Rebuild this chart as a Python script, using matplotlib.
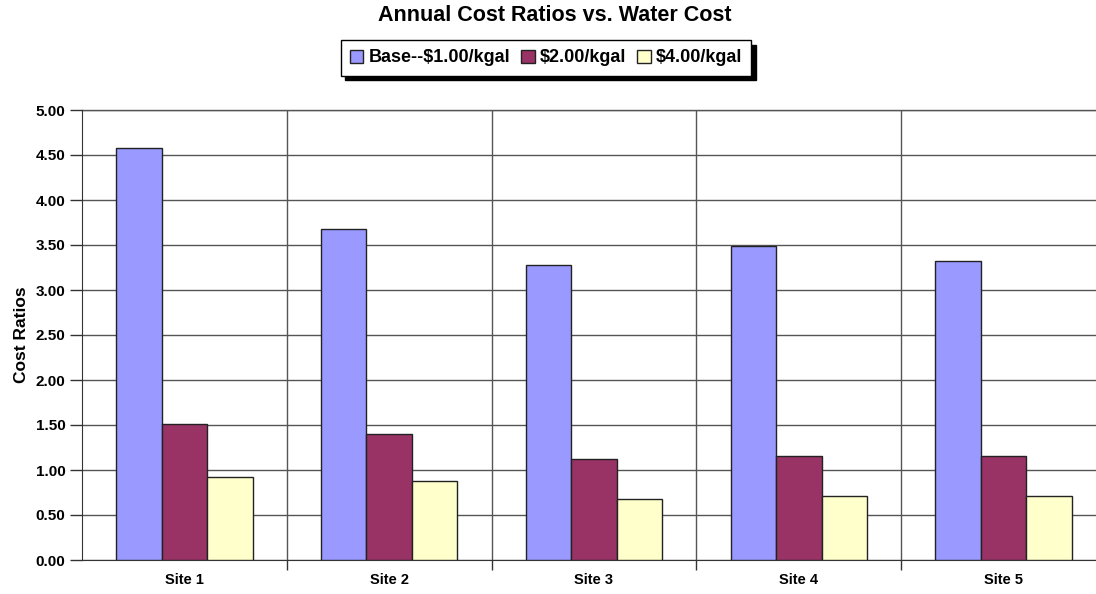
import matplotlib.pyplot as plt
import numpy as np

plt.rcParams['font.family'] = ['Liberation Sans', 'DejaVu Sans']
plt.rcParams['font.weight'] = 'bold'

# cost ratios per site for each water price
sites = ['Site 1', 'Site 2', 'Site 3', 'Site 4', 'Site 5']
base_1 = [4.58, 3.68, 3.28, 3.49, 3.32]
cost_2 = [1.51, 1.40, 1.12, 1.16, 1.16]
cost_4 = [0.92, 0.88, 0.68, 0.71, 0.71]
series_labels = ['Base--$1.00/kgal', '$2.00/kgal', '$4.00/kgal']
colors = ['#9999ff', '#993366', '#ffffcc']

fig = plt.figure(figsize=(10.96, 5.94), dpi=100)
ax = fig.add_axes([82 / 1096, 34 / 594, 1024 / 1096, 450 / 594])

x = np.arange(len(sites))
w = 0.222
for k, (vals, lab, c) in enumerate(zip([base_1, cost_2, cost_4], series_labels, colors)):
    ax.bar(x + (k - 1) * w, vals, w, color=c, edgecolor='#222222', linewidth=1.0,
           label=lab, zorder=3)

ax.set_xlim(-0.5, len(sites) - 0.5)
ax.set_ylim(0, 5.0)
yt = np.arange(0, 5.01, 0.5)
ax.set_yticks(yt)
ax.set_yticklabels([f'{v:.2f}' for v in yt], fontsize=11, fontweight='bold')
ax.set_xticks(x)
ax.set_xticklabels(sites, fontsize=10.5, fontweight='bold')
ax.tick_params(axis='x', which='major', length=0, pad=9)
ax.tick_params(axis='y', length=9, width=1, color='#333333', pad=3)

# category separators
ax.set_xticks(np.arange(0.5, len(sites) - 0.5, 1), minor=True)
ax.tick_params(axis='x', which='minor', length=7, width=1, color='#333333')
ax.grid(True, axis='y', color='#555555', linewidth=1.0, zorder=0)
ax.grid(True, axis='x', which='minor', color='#555555', linewidth=1.0, zorder=0)
ax.axhline(5.0, color='#555555', linewidth=1.0, clip_on=False, zorder=0)

for s in ['top', 'right']:
    ax.spines[s].set_visible(False)
ax.spines['left'].set_color('#333333')
ax.spines['bottom'].set_color('#333333')

ax.set_ylabel('Cost Ratios', fontsize=12.5, fontweight='bold', labelpad=5)

fig.suptitle('Annual Cost Ratios vs. Water Cost', fontsize=15.5, fontweight='bold',
             x=0.506, y=0.992)

leg = fig.legend(loc='center', bbox_to_anchor=(546 / 1096, 1 - 58 / 594), ncol=3,
                 fontsize=13, frameon=True, fancybox=False, edgecolor='black',
                 handlelength=0.75, handleheight=0.75, handletextpad=0.3,
                 columnspacing=0.6, borderpad=0.5, borderaxespad=0,
                 shadow={'color': 'black', 'alpha': 1.0, 'ox': 3, 'oy': -3})
leg.get_frame().set_linewidth(1.0)
for t in leg.get_texts():
    t.set_fontweight('bold')

fig.savefig('out.png', dpi=100)
